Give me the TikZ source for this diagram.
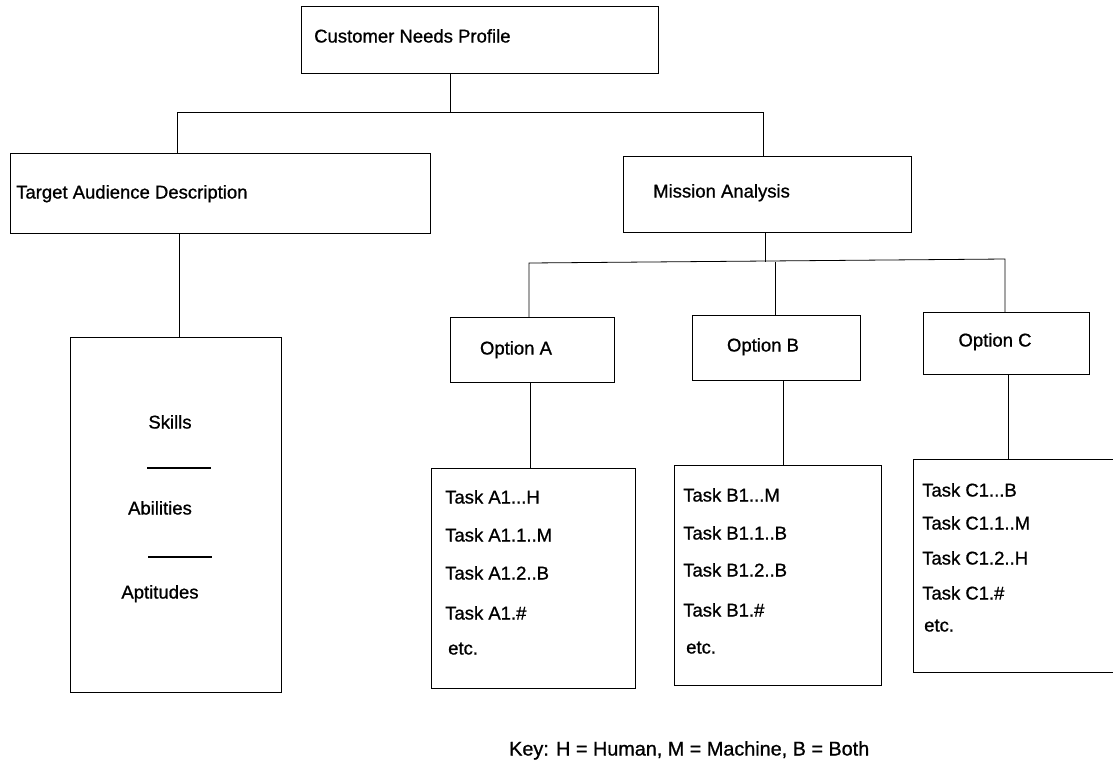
\documentclass[tikz,border=0pt]{standalone}
\usepackage{fontspec}
% a slightly heavier face for the printed labels
\setmainfont{Liberation Sans}[BoldFont={Liberation Sans}, BoldFeatures={FakeBold=0.9}]
\begin{document}
\begin{tikzpicture}[x=1pt,y=-1pt,
  box/.style={draw, line width=1.1pt, inner sep=0pt, anchor=north west},
  link/.style={line width=0.8pt},
  rule/.style={line width=1.2pt},
  lbl/.style={font=\fontsize{18.5}{22}\selectfont\bfseries, inner sep=0pt, anchor=base west},
  clbl/.style={lbl, anchor=base},
]
\useasboundingbox (0,0) rectangle (1113,772);

% boxes
\node[box, minimum width=357, minimum height=67]  (cnp) at (301,6)   {};
\node[box, minimum width=420, minimum height=80]  (tad) at (10,153)  {};
\node[box, minimum width=288, minimum height=76]  (ma)  at (623,156) {};
\node[box, minimum width=211, minimum height=355] (sk)  at (70,337)  {};
\node[box, minimum width=164, minimum height=65]  (oa)  at (450,317) {};
\node[box, minimum width=168, minimum height=65]  (ob)  at (692,315) {};
\node[box, minimum width=166, minimum height=62]  (oc)  at (923,312) {};
\node[box, minimum width=204, minimum height=220] (ta)  at (431,468) {};
\node[box, minimum width=207, minimum height=220] (tb)  at (674,465) {};
\node[box, minimum width=204, minimum height=213] (tc)  at (913,459) {};

% box titles
\node[lbl] (tcnp) at (314,42.5)  {Customer Needs Profile};
\node[lbl] (ttad) at (16,198.5)  {Target Audience Description};
\node[lbl] (tma)  at (653,197.5) {Mission Analysis};
\node[clbl] (toa) at (516,354.5) {Option A};
\node[clbl] (tob) at (763,351.5) {Option B};
\node[clbl] (toc) at (995,346.5) {Option C};

% skills column
\node[clbl] (tsk) at (170,428.5) {Skills};
\node[clbl] (tab) at (160,514.5) {Abilities};
\node[clbl] (tap) at (160,598.5) {Aptitudes};
\coordinate (r1a) at (147,468); \coordinate (r1b) at (211,468);
\coordinate (r2a) at (148,557); \coordinate (r2b) at (212,557);
\draw[rule] (r1a) -- (r1b);
\draw[rule] (r2a) -- (r2b);

% task lists
\node[lbl] (ta1) at (445,503.5) {Task A1...H};
\node[lbl] (ta2) at (445,541.5) {Task A1.1..M};
\node[lbl] (ta3) at (445,579.5) {Task A1.2..B};
\node[lbl] (ta4) at (445,619.5) {Task A1.\#};
\node[lbl] (ta5) at (448,654.5) {etc.};

\node[lbl] (tb1) at (683,501.5) {Task B1...M};
\node[lbl] (tb2) at (683,539.5) {Task B1.1..B};
\node[lbl] (tb3) at (683,576.5) {Task B1.2..B};
\node[lbl] (tb4) at (683,616.5) {Task B1.\#};
\node[lbl] (tb5) at (686,653.5) {etc.};

\node[lbl] (tc1) at (922,496.5) {Task C1...B};
\node[lbl] (tc2) at (922,529.5) {Task C1.1..M};
\node[lbl] (tc3) at (922,564.5) {Task C1.2..H};
\node[lbl] (tc4) at (922,599.5) {Task C1.\#};
\node[lbl] (tc5) at (924,631.5) {etc.};

\node[lbl, font=\fontsize{19.8}{23}\selectfont\bfseries] (key) at (509,755.5) {Key: H = Human, M = Machine, B = Both};

% top level connectors
\coordinate (j1) at (450,112);
\coordinate (hl) at (177,112);
\coordinate (hr) at (763,112);
\draw[link] (cnp.south -| j1) -- (j1);
\draw[link] (hl |- tad.north) -- (hl) -- (hr) -- (hr |- ma.north);

% target audience to skills
\coordinate (s1) at (179,233);
\draw[link] (s1 |- tad.south) -- (s1 |- sk.north);

% mission analysis to options
\coordinate (j2) at (765,262);
\coordinate (pa) at (529,263);
\coordinate (pb) at (775,262);
\coordinate (pc) at (1005,259);
\draw[link] (j2 |- ma.south) -- (j2);
\draw[link] (pa |- oa.north) -- (pa) -- (pc) -- (pc |- oc.north);
\draw[link] (pb) -- (pb |- ob.north);

% options to task lists
\coordinate (qa) at (530,400);
\coordinate (qb) at (783,400);
\coordinate (qc) at (1008,400);
\draw[link] (qa |- oa.south) -- (qa |- ta.north);
\draw[link] (qb |- ob.south) -- (qb |- tb.north);
\draw[link] (qc |- oc.south) -- (qc |- tc.north);
\end{tikzpicture}
\end{document}
